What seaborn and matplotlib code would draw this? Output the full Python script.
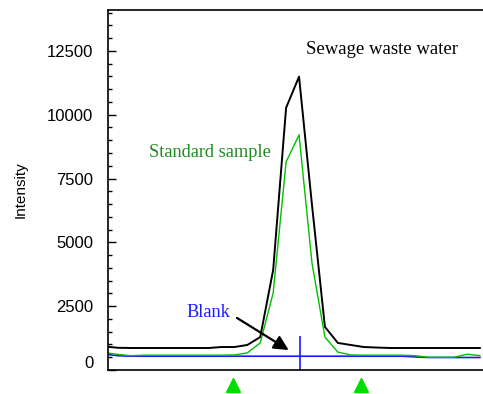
import numpy as np
import pandas as pd
import matplotlib
matplotlib.use("Agg")
import matplotlib.pyplot as plt
import matplotlib.transforms as mtransforms
from matplotlib.ticker import MultipleLocator, NullLocator
import seaborn as sns

# ---- data ----
scan = list(range(30))
sewage = [920, 870, 862, 862, 862, 862, 862, 862, 862, 900,
          900, 980, 1290, 3920, 10270, 11490, 6470, 1690, 1060, 980,
          900, 880, 862, 862, 862, 862, 862, 862, 862, 862]
standard = [680, 610, 560, 580, 580, 580, 580, 580, 580, 580,
            590, 670, 1060, 3020, 8150, 9210, 4190, 1290, 700, 590,
            580, 580, 580, 580, 560, 500, 500, 500, 620, 560]
blank = [620, 560, 540, 540, 540, 540, 540, 540, 540, 540,
         540, 540, 540, 540, 540, 540, 540, 540, 540, 540,
         540, 540, 540, 540, 510, 490, 490, 490, 490, 490]
marker_scans = [9.9, 19.8]
cursor_scan = 15.1
cursor_top = 1330
y_ticks = [0, 2500, 5000, 7500, 10000, 12500]

sns.set_theme(style="white")
plt.rcParams['font.family'] = ['Liberation Sans', 'DejaVu Sans']

fig = plt.figure(figsize=(4.83, 3.94), dpi=100)
ax = fig.add_axes([108 / 483, 24 / 394, 376 / 483, 360 / 394])

df = pd.DataFrame({"scan": scan, "sewage": sewage, "standard": standard, "blank": blank})
sns.lineplot(data=df, x="scan", y="blank", ax=ax, color="#1a1aff", lw=1.2)
sns.lineplot(data=df, x="scan", y="sewage", ax=ax, color="black", lw=1.4)
sns.lineplot(data=df, x="scan", y="standard", ax=ax, color="#00c000", lw=1.0)

ax.vlines(cursor_scan, 0, cursor_top, color="#1a1aff", lw=1.2)

ax.set_xlim(0.23, 29.3)
ax.set_ylim(0, 14100)
ax.set_yticks(y_ticks)
ax.yaxis.set_minor_locator(MultipleLocator(500))
ax.xaxis.set_major_locator(NullLocator())
ax.tick_params(axis='y', which='major', direction='in', length=5.5, width=1.0,
               color='black', labelsize=12, left=True, pad=10.5, labelcolor='black')
ax.tick_params(axis='y', which='minor', direction='in', length=3, width=1.0,
               color='black', left=True)
ax.set_xlabel("")
ax.set_ylabel("Intensity", fontsize=11, labelpad=14, color='black')

# the zero label sits a little above its tick in the reference
fig.canvas.draw()
zero_lbl = ax.get_yticklabels()[0]
zero_lbl.set_transform(zero_lbl.get_transform() +
                       mtransforms.ScaledTranslation(0, 6 / 72, fig.dpi_scale_trans))

for s in ['left', 'bottom', 'top']:
    ax.spines[s].set_visible(True)
    ax.spines[s].set_color('black')
    ax.spines[s].set_linewidth(1.2)
ax.spines['right'].set_visible(False)

trans = mtransforms.blended_transform_factory(ax.transData, ax.transAxes)
ax.plot(marker_scans, [-0.042] * len(marker_scans), marker='^', ls='none',
        color='#00dd00', markersize=10, transform=trans, clip_on=False)

serif = ['Liberation Serif', 'DejaVu Serif']
ax.text(15.5, 12540, "Sewage waste water", color='black', fontsize=13.5,
        family=serif, ha='left', va='center')
ax.text(3.4, 8510, "Standard sample", color='#1e8c1e', fontsize=13.2,
        family=serif, ha='left', va='center')
ax.text(6.3, 2270, "Blank", color='#1a1aff', fontsize=13.2,
        family=serif, ha='left', va='center')
ax.annotate("", xy=(14.2, 780), xytext=(10.2, 2040),
            arrowprops=dict(arrowstyle='-|>', mutation_scale=22, lw=1.6,
                            color='black', shrinkA=0, shrinkB=0))

fig.savefig("out.png", dpi=100)
